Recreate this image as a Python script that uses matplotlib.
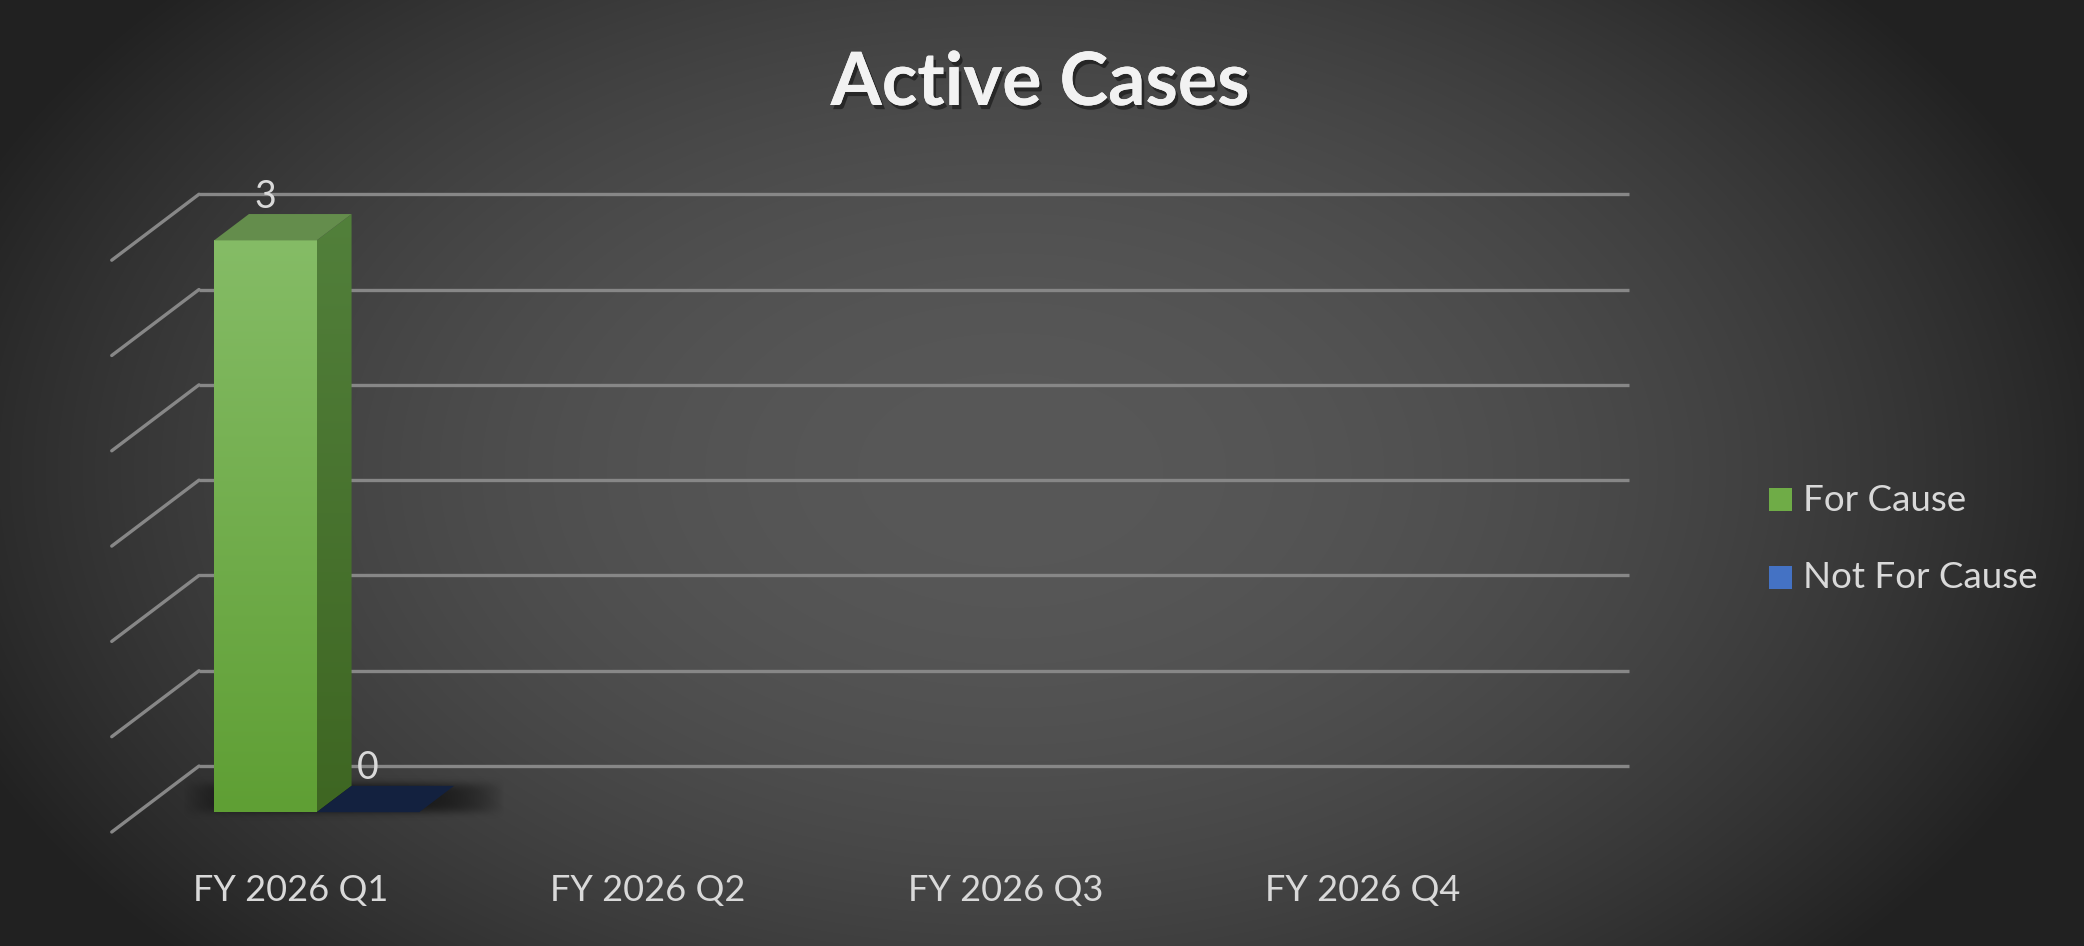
import numpy as np
import matplotlib
matplotlib.use("Agg")
import matplotlib.pyplot as plt
from matplotlib.patches import Polygon, Rectangle
import matplotlib.patheffects as pe

# ---------------- data ----------------
categories = ["FY 2026 Q1", "FY 2026 Q2", "FY 2026 Q3", "FY 2026 Q4"]
series_names = ["For Cause", "Not For Cause"]
for_cause = [3, np.nan, np.nan, np.nan]
not_for_cause = [0, np.nan, np.nan, np.nan]
y_ticks = [0, 0.5, 1.0, 1.5, 2.0, 2.5, 3.0]
title = "Active Cases"

# ---------------- layout ----------------
W, H, DPI = 2084, 946, 100
fig = plt.figure(figsize=(W / DPI, H / DPI), dpi=DPI)

# background radial gradient
yy, xx = np.mgrid[0:H, 0:W]
r2 = ((xx - 1010) / 1100.0) ** 2 + ((yy - 470) / 700.0) ** 2
f = np.clip(r2, 0, 1.05)
c = (88 - 52 * f) / 255.0
bg = np.dstack([c, c, c])
fig.figimage(bg, 0, 0, origin="upper", zorder=-10)

ax = fig.add_axes([0, 0, 1, 1])
ax.set_facecolor("none")
ax.patch.set_alpha(0)
ax.set_xlim(-290.5 / 357.5, (W - 290.5) / 357.5)
ax.set_ylim(-114 / 190.6, (H - 114) / 190.6)
ax.axis("off")

DX, DY = 0.244, 0.346      # oblique depth offset (data units per full depth)
Z0, Z1 = 0.30, 0.70        # bar depth span
BW = 0.287                 # bar width
x_left, x_right = -0.5, len(categories) - 0.5

# walls: gridlines on back wall and side wall
grid_c = "#878787"
for v in y_ticks:
    ax.plot([x_left + DX, x_right + DX], [v + DY, v + DY], color=grid_c, lw=2.4,
            solid_capstyle="butt", zorder=1)
    ax.plot([x_left, x_left + DX], [v, v + DY], color=grid_c, lw=2.4,
            solid_capstyle="round", zorder=1)

# soft shadow under the bars of Q1
sh_h, sh_w = 60, 300
sy = np.linspace(-1, 1, sh_h)[:, None]
sx = np.linspace(-1, 1, sh_w)[None, :]
alpha = np.clip(1 - np.abs(sx) ** 4, 0, 1) * np.exp(-(sy * 1.5) ** 4)
shadow = np.zeros((sh_h, sh_w, 4))
shadow[..., 3] = 0.6 * alpha
ax.imshow(shadow, extent=(-0.30, 0.60, 0.06, 0.30), aspect="auto",
          origin="lower", zorder=2, interpolation="bilinear")


def vgrad(c_top, c_bot, n=256):
    ct = np.array(matplotlib.colors.to_rgb(c_top))
    cb = np.array(matplotlib.colors.to_rgb(c_bot))
    t = np.linspace(0, 1, n)[:, None]
    return (cb * (1 - t) + ct * t)[:, None, :]  # origin lower: row0 bottom


styles = {
    "For Cause": dict(front=("#85bc66", "#5f9f34"), side=("#52803b", "#3e6622"),
                      top="#648d4c"),
    "Not For Cause": dict(front=("#5a86cf", "#2f62bb"), side=("#2a4d8a", "#1e3d70"),
                          top="#13213f"),
}

series_vals = [for_cause, not_for_cause]
label_color = "#d9d9d9"
FONT = "Lato"

for i, cat in enumerate(categories):
    for j, (name, vals) in enumerate(zip(series_names, series_vals)):
        v = vals[i]
        if np.isnan(v):
            continue
        st = styles[name]
        x0 = i - BW + j * BW
        fx0, fy0 = x0 + Z0 * DX, Z0 * DY
        bx0, by0 = x0 + Z1 * DX, Z1 * DY
        if v > 0:
            # front face
            ax.imshow(vgrad(*st["front"]), extent=(fx0, fx0 + BW, fy0, fy0 + v),
                      aspect="auto", origin="lower", zorder=4)
            # side face
            side = Polygon([(fx0 + BW, fy0), (bx0 + BW, by0), (bx0 + BW, by0 + v),
                            (fx0 + BW, fy0 + v)], closed=True, facecolor="none",
                           edgecolor="none")
            ax.add_patch(side)
            im = ax.imshow(vgrad(*st["side"]),
                           extent=(fx0 + BW, bx0 + BW, fy0, by0 + v),
                           aspect="auto", origin="lower", zorder=4)
            im.set_clip_path(side)
        # top face
        ax.add_patch(Polygon([(fx0, fy0 + v), (fx0 + BW, fy0 + v),
                              (bx0 + BW, by0 + v), (bx0, by0 + v)], closed=True,
                             facecolor=st["top"], edgecolor="none", zorder=5))
        # data label
        ax.text(fx0 + BW / 2, fy0 + v + 0.23, f"{int(v)}", ha="center", va="center",
                fontsize=27, color=label_color, family=FONT, zorder=6)

# category labels
for i, cat in enumerate(categories):
    ax.text(i, -0.307, cat, ha="center", va="center", fontsize=26,
            color=label_color, family=FONT, zorder=6)

# title
fig.text(1040 / W, 1 - 105 / H, title, ha="center", va="baseline", fontsize=53,
         fontweight="bold", color="#f2f2f2", family=FONT,
         path_effects=[pe.withSimplePatchShadow(offset=(2, -3), shadow_rgbFace="black",
                                                alpha=0.45), pe.Normal()])

# legend
leg_cols = ["#6fac47", "#4472c4"]
leg_y = [500, 577]
for name, col, yc in zip(series_names, leg_cols, leg_y):
    fig.patches.append(Rectangle((1769 / W, 1 - (yc + 11.5) / H), 23 / W, 23 / H,
                                 transform=fig.transFigure, facecolor=col,
                                 edgecolor="none", zorder=6))
    fig.text(1803 / W, 1 - yc / H, name, ha="left", va="center", fontsize=26.5,
             color=label_color, family=FONT)

fig.savefig("out.png", dpi=DPI)
